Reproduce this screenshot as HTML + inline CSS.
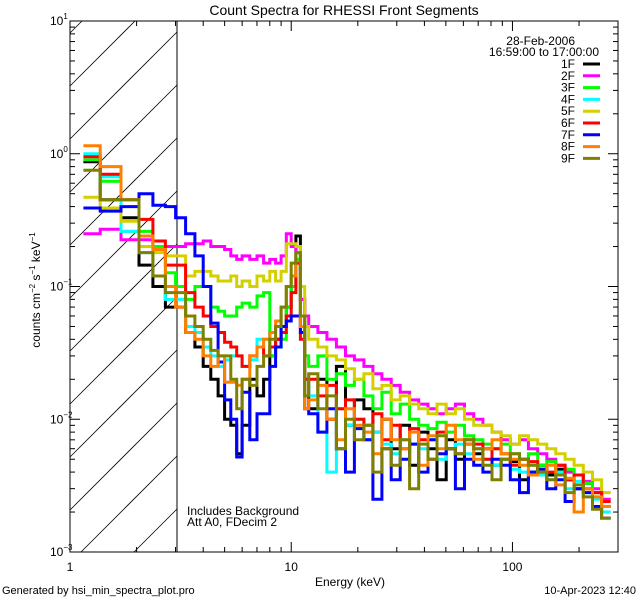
<!DOCTYPE html>
<html><head><meta charset="utf-8"><style>
html,body{margin:0;padding:0;background:#fff;width:640px;height:600px;overflow:hidden;}
svg{display:block;font-family:"Liberation Sans",sans-serif;}
</style></head><body>
<svg id="chart" width="640" height="600" viewBox="0 0 640 600" xmlns="http://www.w3.org/2000/svg">
<defs><clipPath id="plotclip"><rect x="70" y="21" width="548" height="531"/></clipPath></defs>
<rect x="0" y="0" width="640" height="600" fill="#fff"/>
<text x="344" y="15" font-size="14" text-anchor="middle">Count Spectra for RHESSI Front Segments</text>
<g id="hatch"></g>
<line x1="177" y1="21" x2="177" y2="552" stroke="#000" stroke-width="1"/>
<g id="series" clip-path="url(#plotclip)"></g>
<rect x="70" y="21" width="548" height="531" fill="none" stroke="#000" stroke-width="1"/>
<g id="axes"></g>
<text x="350" y="586" font-size="12" text-anchor="middle">Energy (keV)</text>
<text transform="translate(40,290) rotate(-90)" font-size="12" text-anchor="middle">counts cm<tspan dy="-5" font-size="8">−2</tspan><tspan dy="5"> s</tspan><tspan dy="-5" font-size="8">−1</tspan><tspan dy="5"> keV</tspan><tspan dy="-5" font-size="8">−1</tspan></text>
<text x="575" y="45" font-size="12" text-anchor="end">28-Feb-2006</text>
<text x="599" y="56" font-size="12" text-anchor="end">16:59:00 to 17:00:00</text>
<g id="legend"></g>
<text x="187" y="515" font-size="12">Includes Background</text>
<text x="187" y="526" font-size="12">Att A0, FDecim 2</text>
<text x="2" y="594" font-size="11">Generated by hsi_min_spectra_plot.pro</text>
<text x="636" y="594" font-size="11" text-anchor="end">10-Apr-2023 12:40</text>
</svg>
<script>
const edges=[1.15,1.37,1.7,2.05,2.37,2.7,3.0,3.33,3.67,4,4.33,4.67,5,5.33,5.67,6,6.5,7,7.5,8,8.5,9,9.5,10,10.5,11,11.5,12,13.2,14.5,16,17.6,19.3,21.3,23.4,25.7,28.3,31.1,34.3,37.7,41.5,45.6,50.2,55.2,60.7,66.8,73.5,80.8,88.9,97.8,107.6,118,130,143,157,173,190,209,230,253,278,300];
const seriesNames=["1F","2F","3F","4F","5F","6F","7F","8F","9F"];
const seriesColors=["#000000","#ff00ff","#00ff00","#00ffff","#d4d000","#ff0000","#0000ff","#ff8000","#808000"];
const s1F=[0.87,0.45,0.33,0.145,0.1,0.07, 0.07,0.045,0.035,0.025,0.02,0.015,0.01,0.009,0.0055, 0.009,0.02,0.015,0.02,0.03,0.04,0.05,0.07,0.1,0.24,0.08,0.02,
0.012,0.02,0.01,0.025,0.009,0.014,0.012,0.008,0.01,0.006,0.009,0.0045,0.008,0.006,0.0035,0.007,0.005,0.0065,0.0055,0.006,0.0045,0.005,0.0048,0.0035,0.004,0.0045,0.0038,0.0042,0.0035,0.003,0.0033,0.0028,0.0022];
const s2F=[0.25,0.27,0.225,0.225,0.2,0.2, 0.2,0.21,0.21,0.22,0.2,0.2,0.19,0.17,0.16, 0.17,0.16,0.17,0.15,0.16,0.15,0.17,0.25,0.2,0.15,0.08,0.06,
0.05,0.045,0.04,0.035,0.03,0.028,0.025,0.022,0.02,0.018,0.016,0.014,0.013,0.012,0.011,0.012,0.013,0.011,0.010,0.009,0.008,0.007,0.0065,0.007,0.006,0.0055,0.005,0.0045,0.004,0.0038,0.0034,0.003,0.0025];
const s3F=[0.9,0.62,0.26,0.26,0.2,0.127, 0.1,0.08,0.1,0.1,0.07,0.065,0.06,0.06,0.07, 0.075,0.07,0.085,0.09,0.03,0.035,0.04,0.07,0.1,0.16,0.06,0.03,
0.025,0.03,0.02,0.022,0.018,0.02,0.015,0.012,0.016,0.011,0.013,0.01,0.009,0.0085,0.0095,0.008,0.009,0.0075,0.007,0.0065,0.006,0.0065,0.0055,0.005,0.0055,0.0045,0.0048,0.004,0.0042,0.0038,0.0033,0.0028,0.0022];
const s4F=[1.0,0.67,0.26,0.18,0.12,0.08, 0.08,0.05,0.045,0.035,0.03,0.025,0.028,0.03,0.03, 0.025,0.028,0.04,0.04,0.045,0.05,0.07,0.1,0.12,0.18,0.05,0.02,
0.015,0.008,0.004,0.012,0.009,0.01,0.007,0.008,0.0065,0.0055,0.007,0.0065,0.006,0.007,0.005,0.006,0.0065,0.0055,0.006,0.005,0.0045,0.005,0.0042,0.004,0.0045,0.0038,0.0035,0.004,0.003,0.0034,0.0028,0.0025,0.002];
const s5F=[0.47,0.39,0.31,0.2,0.18,0.17, 0.17,0.12,0.13,0.13,0.12,0.11,0.11,0.12,0.1, 0.11,0.1,0.12,0.11,0.13,0.11,0.13,0.21,0.21,0.2,0.1,0.05,
0.04,0.035,0.03,0.028,0.024,0.02,0.022,0.017,0.018,0.014,0.015,0.013,0.012,0.011,0.013,0.011,0.012,0.01,0.009,0.009,0.008,0.0075,0.0065,0.0075,0.007,0.0065,0.006,0.0055,0.005,0.0045,0.004,0.0035,0.0028];
const s6F=[0.95,0.7,0.45,0.32,0.22,0.145, 0.145,0.09,0.07,0.06,0.05,0.045,0.038,0.035,0.03, 0.025,0.03,0.035,0.03,0.035,0.04,0.045,0.06,0.09,0.15,0.04,0.02,
0.02,0.015,0.018,0.012,0.014,0.01,0.009,0.011,0.007,0.009,0.006,0.0085,0.007,0.005,0.008,0.006,0.0055,0.007,0.0065,0.005,0.006,0.0055,0.0045,0.005,0.0048,0.0042,0.004,0.0045,0.0035,0.0038,0.003,0.0028,0.0024];
const s7F=[0.39,0.37,0.4,0.5,0.41,0.4, 0.33,0.25,0.17,0.1,0.053,0.027,0.014,0.01,0.0052, 0.016,0.007,0.011,0.011,0.025,0.035,0.05,0.055,0.06,0.06,0.045,0.012,
0.011,0.008,0.012,0.006,0.004,0.0085,0.007,0.0025,0.006,0.0035,0.005,0.0065,0.004,0.007,0.0055,0.006,0.003,0.005,0.0045,0.004,0.005,0.0045,0.0035,0.0028,0.004,0.0042,0.003,0.0035,0.0024,0.003,0.0028,0.0022,0.0018];
const s8F=[1.15,0.8,0.45,0.24,0.19,0.1, 0.07,0.045,0.04,0.03,0.025,0.03,0.019,0.019,0.018, 0.02,0.03,0.035,0.04,0.045,0.055,0.07,0.1,0.12,0.18,0.05,0.012,
0.014,0.018,0.01,0.007,0.012,0.009,0.008,0.0055,0.01,0.007,0.006,0.008,0.0045,0.0075,0.006,0.009,0.007,0.0065,0.005,0.006,0.007,0.0055,0.005,0.0045,0.0038,0.004,0.0045,0.0032,0.0036,0.002,0.003,0.0026,0.0022];
const s9F=[0.75,0.45,0.45,0.18,0.12,0.09, 0.09,0.06,0.05,0.04,0.033,0.03,0.03,0.02,0.012, 0.02,0.018,0.025,0.03,0.04,0.05,0.07,0.1,0.15,0.18,0.06,0.015,
0.022,0.012,0.015,0.006,0.01,0.007,0.009,0.004,0.006,0.0045,0.007,0.003,0.0065,0.005,0.0075,0.006,0.0055,0.007,0.006,0.0045,0.0035,0.005,0.0055,0.005,0.0045,0.004,0.0035,0.0038,0.0028,0.0032,0.0026,0.0021,0.0018];
const seriesValues=[s1F,s2F,s3F,s4F,s5F,s6F,s7F,s8F,s9F];
const xTickVals=[1,10,100];
const xTickLabels=["1","10","100"];
const yTickExps=[-3,-2,-1,0,1];

const NS="http://www.w3.org/2000/svg";
const X0=70,X1=618,Y0=552,Y1=21;
const xmin=Math.log10(1),xmax=Math.log10(300),ymin=-3,ymax=1;
function xs(e){return X0+(Math.log10(e)-xmin)/(xmax-xmin)*(X1-X0);}
function ys(v){return Y0-(Math.log10(v)-ymin)/(ymax-ymin)*(Y0-Y1);}
function mk(tag,attrs,parent){const el=document.createElementNS(NS,tag);for(const k in attrs)el.setAttribute(k,attrs[k]);parent.appendChild(el);return el;}

// hatch lines (45°), manually clipped to the region x 70..177, y 21..552
const hatch=document.getElementById('hatch');
const HX0=70,HX1=177;
for(let k=-3;k<12;k++){
  const b=86+53*k; // y at x=70; line: y = b - (x-70)
  let xa=HX0,ya=b,xb=HX1,yb=b-(HX1-HX0);
  if(ya>Y0){xa=HX0+(ya-Y0);ya=Y0;}
  if(yb<Y1){xb=HX0+(b-Y1);yb=Y1;}
  if(xa>=xb)continue;
  const h=mk('line',{x1:xa,y1:ya,x2:xb,y2:yb,stroke:'#000','stroke-width':0.8},hatch);
  
  
}

const sg=document.getElementById('series');
seriesValues.forEach((vals,si)=>{
  let d='';
  for(let i=0;i<vals.length;i++){
    const xa=xs(edges[i]).toFixed(1),xb=xs(edges[i+1]).toFixed(1),y=ys(vals[i]).toFixed(1);
    d+=(i===0?'M':'L')+xa+' '+y+'L'+xb+' '+y;
  }
  const p=mk('path',{d:d,fill:'none',stroke:seriesColors[si],'stroke-width':3,'stroke-linejoin':'miter'},sg);
  
  
});

const ax=document.getElementById('axes');
for(let dec=0;dec<3;dec++){
  for(let m=1;m<10;m++){
    const e=Math.pow(10,dec)*m; if(e>300)break;
    const x=xs(e),len=(m===1)?10:5;
    const t1=mk('line',{x1:x,y1:Y0,x2:x,y2:Y0-len,stroke:'#000'},ax);
    
    
    const t2=mk('line',{x1:x,y1:Y1,x2:x,y2:Y1+len,stroke:'#000'},ax);
    
    
  }
}
xTickVals.forEach((v,i)=>{
  const t=mk('text',{x:xs(v),y:571,'font-size':12,'text-anchor':'middle'},ax);
  t.textContent=xTickLabels[i];
  
  
});
for(let ex=-3;ex<1;ex++){
  for(let m=1;m<10;m++){
    const v=Math.pow(10,ex)*m,y=ys(v),len=(m===1)?10:5;
    const t1=mk('line',{x1:X0,y1:y,x2:X0+len,y2:y,stroke:'#000'},ax);
    
    
    const t2=mk('line',{x1:X1,y1:y,x2:X1-len,y2:y,stroke:'#000'},ax);
    
    
  }
}
yTickExps.forEach(ex=>{
  const y=ys(Math.pow(10,ex));
  const t=mk('text',{x:50,y:y+4,'font-size':12},ax);
  
  
  t.appendChild(document.createTextNode('10'));
  const s=mk('tspan',{dy:-6,'font-size':8},t);
  s.textContent=(ex<0?'−':'')+Math.abs(ex);
});

const lg=document.getElementById('legend');
seriesNames.forEach((n,i)=>{
  const y=64+11.8*i;
  const t=mk('text',{x:575,y:y+4,'font-size':12,'text-anchor':'end'},lg);
  t.textContent=n;
  
  
  const l=mk('line',{x1:583,y1:y,x2:600,y2:y,stroke:seriesColors[i],'stroke-width':3},lg);
  
  
});
</script>
</body></html>
